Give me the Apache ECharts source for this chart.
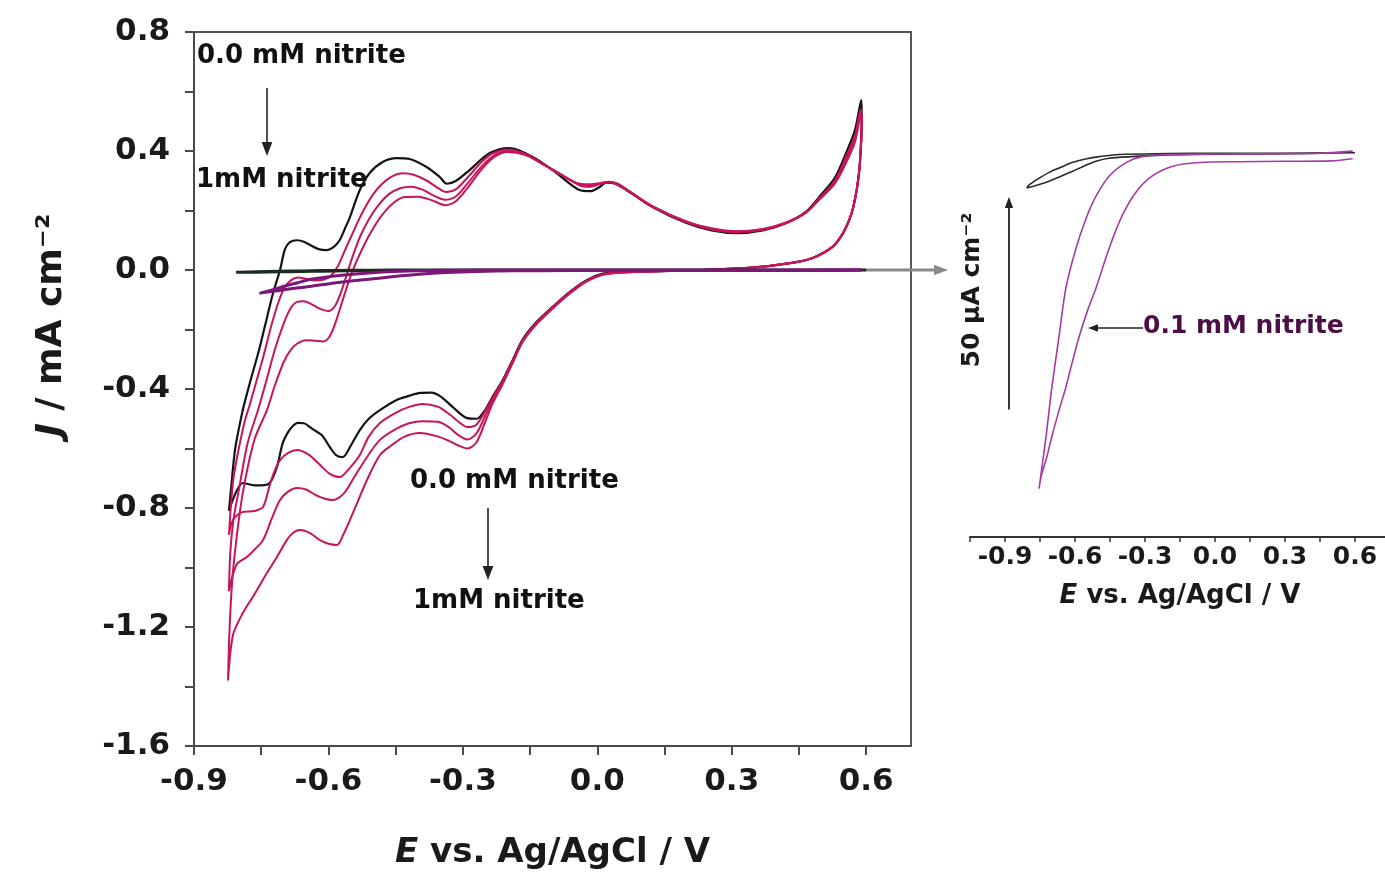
<!DOCTYPE html>
<html>
<head>
<meta charset="utf-8">
<script src="https://cdn.jsdelivr.net/npm/echarts@6.0.0/dist/echarts.min.js"></script>
<style>
  html, body { margin: 0; padding: 0; background: #fff; }
  #chart { width: 1385px; height: 876px; }
</style>
</head>
<body>
<div id="chart"></div>
<script>
// ---- data: E (V vs Ag/AgCl), J (mA cm-2) ----
// CV loops, anodic sweep from the cathodic limit then back
let cv0mM = [
  [-0.822,-0.81],[-0.817,-0.73],[-0.808,-0.60],[-0.791,-0.47],[-0.779,-0.40],[-0.769,-0.345],[-0.755,-0.27],
  [-0.742,-0.19],[-0.724,-0.08],[-0.708,0.0],[-0.697,0.07],[-0.686,0.094],[-0.670,0.10],[-0.655,0.095],
  [-0.641,0.084],[-0.622,0.07],[-0.604,0.067],[-0.588,0.078],[-0.575,0.10],[-0.563,0.14],[-0.552,0.178],
  [-0.530,0.269],[-0.508,0.326],[-0.479,0.363],[-0.448,0.376],[-0.419,0.373],[-0.381,0.346],[-0.352,0.313],
  [-0.336,0.29],[-0.315,0.300],[-0.285,0.336],[-0.240,0.393],[-0.196,0.410],[-0.144,0.380],[-0.091,0.326],
  [-0.040,0.269],[-0.015,0.265],[0.005,0.279],[0.020,0.294],[0.040,0.29],[0.065,0.269],[0.123,0.212],
  [0.199,0.158],[0.255,0.133],[0.310,0.124],[0.370,0.133],[0.422,0.158],[0.465,0.195],[0.495,0.245],
  [0.530,0.31],[0.555,0.393],[0.575,0.47],[0.589,0.571],
  [0.590,0.52],[0.586,0.36],[0.580,0.28],[0.571,0.21],[0.562,0.168],[0.546,0.118],[0.524,0.077],
  [0.480,0.040],[0.435,0.024],[0.346,0.008],[0.228,0.0],[0.116,-0.005],[0.050,-0.008],[0.012,-0.012],
  [-0.024,-0.034],[-0.062,-0.074],[-0.100,-0.124],[-0.136,-0.175],[-0.167,-0.235],[-0.189,-0.303],
  [-0.211,-0.370],[-0.234,-0.427],[-0.250,-0.47],[-0.269,-0.50],[-0.292,-0.497],[-0.323,-0.46],
  [-0.350,-0.425],[-0.370,-0.412],[-0.395,-0.413],[-0.420,-0.423],[-0.448,-0.437],[-0.485,-0.471],
  [-0.510,-0.50],[-0.530,-0.538],[-0.550,-0.59],[-0.568,-0.629],[-0.583,-0.622],[-0.597,-0.595],
  [-0.615,-0.555],[-0.635,-0.535],[-0.655,-0.515],[-0.668,-0.514],[-0.680,-0.525],[-0.690,-0.545],
  [-0.702,-0.582],[-0.715,-0.662],[-0.731,-0.716],[-0.750,-0.724],[-0.769,-0.723],[-0.791,-0.716],
  [-0.809,-0.756],[-0.822,-0.81]
];
let cvStep1 = [
  [-0.822,-0.89],[-0.818,-0.80],[-0.812,-0.70],[-0.80,-0.60],[-0.787,-0.51],[-0.775,-0.45],[-0.76,-0.37],
  [-0.745,-0.29],[-0.728,-0.19],[-0.712,-0.11],[-0.698,-0.06],[-0.684,-0.035],[-0.668,-0.025],[-0.65,-0.03],
  [-0.63,-0.035],[-0.61,-0.032],[-0.595,-0.02],[-0.58,0.01],[-0.565,0.06],[-0.55,0.11],[-0.535,0.16],
  [-0.52,0.205],[-0.50,0.255],[-0.48,0.29],[-0.458,0.315],[-0.435,0.325],[-0.41,0.32],[-0.38,0.30],
  [-0.355,0.275],[-0.336,0.262],[-0.315,0.272],[-0.29,0.31],[-0.26,0.36],[-0.235,0.39],[-0.20,0.405],
  [-0.16,0.39],[-0.12,0.355],[-0.08,0.32],[-0.04,0.285],[-0.015,0.28],[0.005,0.288],[0.025,0.295],
  [0.045,0.288],[0.07,0.265],[0.123,0.212],[0.199,0.16],[0.255,0.136],[0.31,0.127],[0.37,0.135],
  [0.422,0.158],[0.465,0.193],[0.495,0.24],[0.53,0.30],[0.555,0.38],[0.575,0.45],[0.588,0.54],
  [0.590,0.50],[0.586,0.36],[0.58,0.28],[0.571,0.21],[0.562,0.168],[0.546,0.118],[0.524,0.077],
  [0.48,0.04],[0.435,0.024],[0.346,0.008],[0.228,0.0],[0.116,-0.005],[0.05,-0.008],[0.012,-0.014],
  [-0.024,-0.036],[-0.062,-0.076],[-0.10,-0.126],[-0.136,-0.178],[-0.167,-0.238],[-0.189,-0.306],
  [-0.211,-0.373],[-0.234,-0.43],[-0.25,-0.475],[-0.27,-0.52],[-0.29,-0.528],[-0.31,-0.51],[-0.33,-0.485],
  [-0.355,-0.46],[-0.39,-0.45],[-0.42,-0.46],[-0.45,-0.48],[-0.485,-0.514],[-0.51,-0.56],[-0.53,-0.622],
  [-0.555,-0.67],[-0.575,-0.696],[-0.597,-0.685],[-0.619,-0.655],[-0.645,-0.62],[-0.670,-0.605],
  [-0.690,-0.615],[-0.708,-0.639],[-0.72,-0.675],[-0.731,-0.723],[-0.746,-0.797],[-0.765,-0.81],
  [-0.791,-0.813],[-0.813,-0.84],[-0.822,-0.89]
];
let cvStep2 = [
  [-0.822,-1.08],[-0.819,-0.95],[-0.812,-0.84],[-0.80,-0.74],[-0.78,-0.58],[-0.757,-0.47],[-0.74,-0.38],
  [-0.72,-0.27],[-0.70,-0.18],[-0.685,-0.13],[-0.67,-0.107],[-0.655,-0.105],[-0.638,-0.115],[-0.62,-0.13],
  [-0.60,-0.138],[-0.585,-0.12],[-0.572,-0.075],[-0.558,-0.01],[-0.545,0.05],[-0.53,0.11],[-0.51,0.17],
  [-0.49,0.215],[-0.465,0.255],[-0.44,0.275],[-0.415,0.28],[-0.39,0.27],[-0.365,0.25],[-0.34,0.236],
  [-0.315,0.248],[-0.29,0.29],[-0.26,0.345],[-0.23,0.385],[-0.20,0.40],[-0.16,0.388],[-0.12,0.355],
  [-0.08,0.32],[-0.04,0.288],[-0.015,0.285],[0.005,0.29],[0.025,0.296],[0.045,0.29],[0.07,0.266],
  [0.123,0.214],[0.199,0.162],[0.255,0.138],[0.31,0.129],[0.37,0.137],[0.422,0.16],[0.465,0.193],
  [0.495,0.238],[0.53,0.295],[0.555,0.37],[0.575,0.44],[0.588,0.53],
  [0.590,0.49],[0.586,0.36],[0.58,0.28],[0.571,0.21],[0.562,0.168],[0.546,0.118],[0.524,0.077],
  [0.48,0.04],[0.435,0.024],[0.346,0.008],[0.228,0.0],[0.116,-0.005],[0.05,-0.008],[0.012,-0.015],
  [-0.024,-0.037],[-0.062,-0.078],[-0.10,-0.128],[-0.136,-0.18],[-0.167,-0.24],[-0.189,-0.31],
  [-0.211,-0.378],[-0.234,-0.44],[-0.25,-0.49],[-0.27,-0.55],[-0.29,-0.57],[-0.31,-0.555],[-0.33,-0.53],
  [-0.355,-0.51],[-0.39,-0.508],[-0.42,-0.515],[-0.45,-0.535],[-0.485,-0.571],[-0.51,-0.62],[-0.54,-0.69],
  [-0.565,-0.75],[-0.59,-0.773],[-0.61,-0.768],[-0.63,-0.755],[-0.65,-0.738],[-0.67,-0.733],[-0.69,-0.745],
  [-0.708,-0.773],[-0.725,-0.83],[-0.746,-0.908],[-0.765,-0.94],[-0.782,-0.965],[-0.805,-0.99],[-0.822,-1.08]
];
let cv1mM = [
  [-0.824,-1.38],[-0.821,-1.22],[-0.815,-1.05],[-0.805,-0.90],[-0.79,-0.74],[-0.765,-0.57],[-0.737,-0.47],
  [-0.72,-0.39],[-0.70,-0.31],[-0.685,-0.27],[-0.67,-0.248],[-0.65,-0.236],[-0.63,-0.238],[-0.612,-0.24],
  [-0.598,-0.225],[-0.585,-0.18],[-0.57,-0.11],[-0.555,-0.04],[-0.54,0.02],[-0.52,0.085],[-0.50,0.14],
  [-0.48,0.185],[-0.455,0.225],[-0.43,0.245],[-0.40,0.246],[-0.37,0.235],[-0.34,0.218],[-0.315,0.232],
  [-0.29,0.275],[-0.26,0.335],[-0.23,0.38],[-0.20,0.397],[-0.16,0.386],[-0.12,0.354],[-0.08,0.32],
  [-0.04,0.29],[-0.015,0.288],[0.005,0.292],[0.025,0.297],[0.045,0.29],[0.07,0.266],[0.123,0.215],
  [0.199,0.163],[0.255,0.14],[0.31,0.13],[0.37,0.138],[0.422,0.16],[0.465,0.192],[0.495,0.236],
  [0.53,0.29],[0.555,0.36],[0.575,0.43],[0.588,0.52],
  [0.590,0.48],[0.586,0.36],[0.58,0.28],[0.571,0.21],[0.562,0.168],[0.546,0.118],[0.524,0.077],
  [0.48,0.04],[0.435,0.024],[0.346,0.008],[0.228,0.0],[0.116,-0.005],[0.05,-0.009],[0.012,-0.016],
  [-0.024,-0.038],[-0.062,-0.08],[-0.10,-0.13],[-0.136,-0.183],[-0.167,-0.243],[-0.189,-0.313],
  [-0.211,-0.383],[-0.234,-0.45],[-0.25,-0.51],[-0.27,-0.58],[-0.29,-0.60],[-0.31,-0.59],[-0.33,-0.575],
  [-0.355,-0.56],[-0.396,-0.548],[-0.43,-0.56],[-0.46,-0.59],[-0.485,-0.622],[-0.514,-0.706],[-0.535,-0.78],
  [-0.552,-0.84],[-0.567,-0.89],[-0.581,-0.924],[-0.60,-0.92],[-0.619,-0.908],[-0.64,-0.885],[-0.664,-0.874],
  [-0.68,-0.885],[-0.693,-0.908],[-0.715,-0.965],[-0.737,-1.018],[-0.765,-1.09],[-0.791,-1.153],
  [-0.813,-1.227],[-0.824,-1.38]
];

// inset electrode, J in uA cm-2
let inset0mM = [
  [0.60,0.4],[0.45,0.3],[0.3,0.2],[0.1,0.1],[-0.1,0.0],[-0.25,-0.2],[-0.356,-0.5],[-0.454,-0.9],
  [-0.51,-1.6],[-0.56,-2.7],[-0.613,-4.0],[-0.66,-5.1],[-0.711,-6.3],[-0.76,-7.2],[-0.806,-7.9],
  [-0.80,-7.3],[-0.76,-5.8],[-0.711,-4.2],[-0.66,-3.0],[-0.613,-1.9],[-0.55,-1.0],[-0.497,-0.5],
  [-0.411,0.0],[-0.2,0.2],[0.0,0.3],[0.3,0.3],[0.5,0.4],[0.60,0.4]
];
let inset01mM = [
  [0.59,0.8],[0.45,0.3],[0.3,0.2],[0.0,0.1],[-0.2,0.0],[-0.313,-0.5],[-0.381,-1.9],[-0.454,-5.1],
  [-0.510,-9.8],[-0.553,-15.1],[-0.596,-22.1],[-0.639,-31.4],[-0.669,-43.0],[-0.699,-54.7],
  [-0.724,-66.3],[-0.754,-78.6],[-0.746,-76],[-0.72,-71],[-0.699,-66.3],[-0.67,-60.5],[-0.639,-54.7],
  [-0.61,-48.5],[-0.583,-43.0],[-0.545,-36.5],[-0.510,-31.4],[-0.454,-22.1],[-0.398,-14.4],
  [-0.338,-8.8],[-0.270,-5.1],[-0.184,-2.8],[-0.068,-1.9],[0.1,-1.7],[0.3,-1.6],[0.5,-1.5],[0.59,-1.0]
];

// tick positions and labels
let xTickValues = [-0.9, -0.75, -0.6, -0.45, -0.3, -0.15, 0.0, 0.15, 0.3, 0.45, 0.6];
let xTickLabels = [-0.9, -0.6, -0.3, 0.0, 0.3, 0.6];
let yTickLabels = [-1.6, -1.2, -0.8, -0.4, 0.0, 0.4, 0.8];
let insetTickValues = [-1.05, -0.9, -0.75, -0.6, -0.45, -0.3, -0.15, 0.0, 0.15, 0.3, 0.45, 0.6, 0.75];
let scaleBarUA = 50;    // inset scale bar, uA cm-2

const FONT = '"DejaVu Sans", sans-serif';
const AXIS_COLOR = '#4a4a4a';

function isLabel(v, list){
    return list.some(t => Math.abs(t - v) < 1e-6);
}
function fmt(v){
    if (Math.abs(v) < 1e-9) v = 0;
    return v.toFixed(1);
}
function toMA(arr){
    return arr.map(p => [p[0], p[1] / 1000]);
}

function arrow(x1, y1, x2, y2, color, w, head){
    let ang = Math.atan2(y2 - y1, x2 - x1);
    let hx = x2 - head * Math.cos(ang), hy = y2 - head * Math.sin(ang);
    let px = Math.sin(ang) * head * 0.38, py = -Math.cos(ang) * head * 0.38;
    return {
        type: 'group',
        children: [
            { type: 'line', shape: { x1: x1, y1: y1, x2: hx, y2: hy }, style: { stroke: color, lineWidth: w } },
            { type: 'polygon', shape: { points: [[x2, y2], [hx + px, hy + py], [hx - px, hy - py]] }, style: { fill: color } }
        ]
    };
}
function label(text, x, y, size, color){
    return {
        type: 'text', x: x, y: y,
        style: { text: text, fontFamily: FONT, fontWeight: 'bold', fontSize: size, fill: color || '#111',
                 align: 'left', verticalAlign: 'middle' }
    };
}

let chart = echarts.init(document.getElementById('chart'));

let lineSeries = function(name, data, color, width, idx){
    return {
        name: name, type: 'line', data: data,
        xAxisIndex: idx, yAxisIndex: idx,
        showSymbol: false, symbol: 'none', smooth: 0.3,
        lineStyle: { color: color, width: width },
        itemStyle: { color: color },
        animation: false
    };
};

let mainXAxis = {
    gridIndex: 0, type: 'value', min: -0.9, max: 0.7, interval: 0.15,
    axisLine: { onZero: false, lineStyle: { color: AXIS_COLOR, width: 2 } },
    axisTick: { length: 9, customValues: xTickValues, lineStyle: { color: AXIS_COLOR, width: 2 } },
    splitLine: { show: false },
    axisLabel: {
        margin: 20, color: '#1a1a1a', fontSize: 31, fontWeight: 'bold', fontFamily: FONT,
        customValues: xTickLabels,
        formatter: v => isLabel(v, xTickLabels) ? fmt(v) : ''
    },
    name: '{i|E} vs. Ag/AgCl / V', nameLocation: 'middle', nameGap: 90,
    nameTextStyle: {
        color: '#1a1a1a', fontSize: 34, fontWeight: 'bold', fontFamily: FONT,
        rich: { i: { fontStyle: 'italic', fontSize: 34, fontWeight: 'bold', fontFamily: FONT, color: '#1a1a1a' } }
    }
};
let mainYAxis = {
    gridIndex: 0, type: 'value', min: -1.6, max: 0.8, interval: 0.2,
    axisLine: { onZero: false, lineStyle: { color: AXIS_COLOR, width: 2 } },
    axisTick: { length: 9, lineStyle: { color: AXIS_COLOR, width: 2 } },
    splitLine: { show: false },
    axisLabel: {
        margin: 24, color: '#1a1a1a', fontSize: 31, fontWeight: 'bold', fontFamily: FONT,
        formatter: v => isLabel(v, yTickLabels) ? fmt(v) : ''
    }
};
let insetXAxis = {
    gridIndex: 1, type: 'value', min: -1.05, max: 0.75, interval: 0.15,
    axisLine: { onZero: false, lineStyle: { color: '#333', width: 2 } },
    axisTick: { length: 5, customValues: insetTickValues, lineStyle: { color: '#333', width: 1.5 } },
    splitLine: { show: false },
    axisLabel: {
        margin: 8, color: '#1a1a1a', fontSize: 25, fontWeight: 'bold', fontFamily: FONT,
        customValues: xTickLabels,
        formatter: v => isLabel(v, xTickLabels) ? fmt(v) : ''
    },
    name: '{i|E} vs. Ag/AgCl / V', nameLocation: 'middle', nameGap: 46,
    nameTextStyle: {
        color: '#1a1a1a', fontSize: 26, fontWeight: 'bold', fontFamily: FONT,
        rich: { i: { fontStyle: 'italic', fontSize: 26, fontWeight: 'bold', fontFamily: FONT, color: '#1a1a1a' } }
    }
};
let insetYAxis = {
    gridIndex: 1, type: 'value', min: -90, max: 10, show: false,
    axisLine: { onZero: false }, splitLine: { show: false }
};

chart.setOption({
    backgroundColor: '#fff',
    animation: false,
    grid: [
        { left: 194, top: 32, width: 717, height: 714, show: true, borderColor: '#555', borderWidth: 2,
          outerBoundsMode: 'none' },
        { left: 970, top: 112, width: 420, height: 425, outerBoundsMode: 'none' }
    ],
    xAxis: [mainXAxis, insetXAxis],
    yAxis: [mainYAxis, insetYAxis],
    series: [
        lineSeries('0.0 mM nitrite', cv0mM, '#141414', 2.2, 0),
        lineSeries('nitrite step 1', cvStep1, '#c8145a', 2, 0),
        lineSeries('nitrite step 2', cvStep2, '#c8145a', 2, 0),
        lineSeries('1 mM nitrite', cv1mM, '#c8145a', 2, 0),
        lineSeries('0.0 mM (inset electrode)', toMA(inset0mM), '#1e2a1e', 3, 0),
        lineSeries('0.1 mM (inset electrode)', toMA(inset01mM), '#7b1778', 3, 0),
        lineSeries('inset 0.0 mM', inset0mM, '#2a2a2a', 1.6, 1),
        lineSeries('inset 0.1 mM', inset01mM, '#a63aa8', 1.6, 1)
    ]
});

// scale bar in the inset follows the inset's own y scale
let barBottom = chart.convertToPixel({ gridIndex: 1 }, [-0.883, -60]);
let barTop = chart.convertToPixel({ gridIndex: 1 }, [-0.883, -60 + scaleBarUA]);

chart.setOption({
    graphic: [
        label('0.0 mM nitrite', 197, 56, 26),
        arrow(267, 88, 267, 156, '#222', 1.6, 14),
        label('1mM nitrite', 196, 180, 26),
        label('0.0 mM nitrite', 410, 481, 26),
        arrow(488, 508, 488, 580, '#222', 1.6, 14),
        label('1mM nitrite', 413, 601, 26),
        arrow(866, 270, 948, 270, '#8a8a8a', 3, 14),
        label('0.1 mM nitrite', 1143, 326, 25, '#4b0f45'),
        arrow(1143, 328, 1088, 328, '#222', 1.5, 10),
        arrow(barBottom[0], barBottom[1], barTop[0], barTop[1], '#222', 1.8, 11),
        {
            type: 'text', x: 972, y: 290, rotation: Math.PI / 2,
            style: { text: '50 μA cm⁻²', fontFamily: FONT, fontWeight: 'bold', fontSize: 25, fill: '#1a1a1a',
                     align: 'center', verticalAlign: 'middle' }
        },
        {
            type: 'text', x: 52, y: 325, rotation: Math.PI / 2,
            style: {
                text: '{i|J} / mA cm⁻²', fontFamily: FONT, fontWeight: 'bold', fontSize: 36, fill: '#1a1a1a',
                align: 'center', verticalAlign: 'middle',
                rich: { i: { fontStyle: 'italic', fontWeight: 'bold', fontSize: 36, fontFamily: FONT, fill: '#1a1a1a' } }
            }
        }
    ]
});
</script>
</body>
</html>
